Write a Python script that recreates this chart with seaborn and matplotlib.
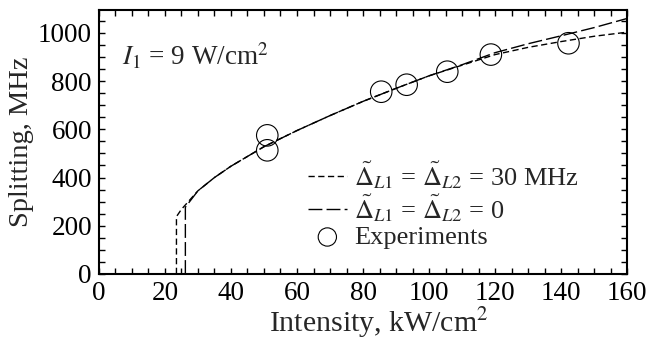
import numpy as np
import pandas as pd
import matplotlib
matplotlib.use('Agg')
import matplotlib.pyplot as plt
import seaborn as sns
from matplotlib.ticker import MultipleLocator

# Calculated splitting, detuning 30 MHz (short dashes)
x_30 = [23.5, 23.5, 25, 30, 35, 40, 50, 60, 70, 80, 90, 100, 110, 120, 130, 140, 150, 160]
y_30 = [0, 238, 268, 345, 400, 447, 528, 595, 657, 716, 770, 822, 866, 910, 940, 964, 986, 1003]

# Calculated splitting, zero detuning (long dashes)
x_0 = [26.2, 26.2, 30, 35, 40, 50, 60, 70, 80, 90, 100, 110, 120, 130, 140, 150, 160]
y_0 = [0, 277, 345, 400, 447, 528, 595, 657, 716, 770, 822, 868, 918, 955, 988, 1022, 1060]

# Experimental points
x_exp = [51, 51, 85.5, 93.2, 105.5, 118.7, 142.2]
y_exp = [575, 513, 756, 785, 839, 910, 957]

sns.set_theme(style='ticks')
plt.rcParams['font.family'] = ['Liberation Serif', 'DejaVu Serif']
plt.rcParams['mathtext.fontset'] = 'stix'

fig = plt.figure(figsize=(6.46, 3.44), dpi=100)
ax = fig.add_axes([0.153, 0.2035, 0.818, 0.7675])

df30 = pd.DataFrame({'x': x_30, 'y': y_30})
df0 = pd.DataFrame({'x': x_0, 'y': y_0})
dfe = pd.DataFrame({'x': x_exp, 'y': y_exp})

sns.lineplot(data=df30, x='x', y='y', ax=ax, estimator=None, sort=False,
             color='black', lw=1.0, linestyle=(0, (4.5, 2.5)),
             label=r'$\tilde{\Delta}_{L1}$ = $\tilde{\Delta}_{L2}$ = 30 MHz')
sns.lineplot(data=df0, x='x', y='y', ax=ax, estimator=None, sort=False,
             color='black', lw=1.0, linestyle=(0, (10, 3)),
             label=r'$\tilde{\Delta}_{L1}$ = $\tilde{\Delta}_{L2}$ = 0')
sns.scatterplot(data=dfe, x='x', y='y', ax=ax, s=240, facecolor='none',
                edgecolor='black', linewidth=0.8, label='Experiments')

ax.set_xlim(0, 160)
ax.set_ylim(0, 1095)
ax.xaxis.set_major_locator(MultipleLocator(20))
ax.xaxis.set_minor_locator(MultipleLocator(5))
ax.yaxis.set_major_locator(MultipleLocator(200))
ax.yaxis.set_minor_locator(MultipleLocator(50))
ax.tick_params(which='both', direction='in', top=True, right=True,
               length=4, width=1, labelsize=19.5, colors='black', pad=5)
for sp in ax.spines.values():
    sp.set_linewidth(1.5)
    sp.set_color('black')

ax.set_xlabel(r'Intensity, kW/cm$^2$', fontsize=21.5, labelpad=0, x=0.53)
ax.set_ylabel('Splitting, MHz', fontsize=20.5, labelpad=3)

ax.text(7, 905, r'$I_1$ = 9 W/cm$^2$', fontsize=19.5, va='center', ha='left')

ax.legend(loc='lower left', bbox_to_anchor=(0.37, 0.045), frameon=False,
          fontsize=19, handlelength=1.5, handletextpad=0.25, markerscale=0.85,
          labelspacing=0.05, borderpad=0)

fig.savefig('out.png', dpi=100)
plt.close(fig)
